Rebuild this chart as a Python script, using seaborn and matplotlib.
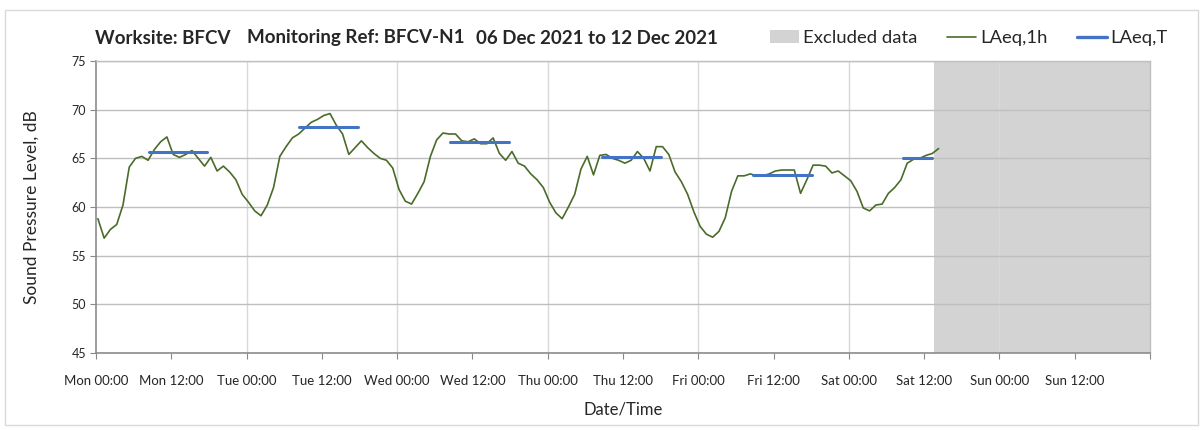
import pandas as pd
import numpy as np
import matplotlib
matplotlib.use("Agg")
import matplotlib.pyplot as plt
import seaborn as sns
from matplotlib.patches import Patch, Rectangle
from matplotlib.lines import Line2D

# hourly LAeq,1h values, Mon 00:00 onwards (hours since start)
laeq_1h = [58.8, 56.8, 57.7, 58.2, 60.2, 64.1, 65.0, 65.2, 64.8, 65.9,
           66.7, 67.2, 65.4, 65.1, 65.4, 65.8, 65.0, 64.2, 65.1, 63.7,
           64.2, 63.6, 62.8, 61.3, 60.5, 59.6, 59.1, 60.2, 62.0, 65.2,
           66.2, 67.1, 67.5, 68.1, 68.7, 69.0, 69.4, 69.6, 68.4, 67.5,
           65.4, 66.1, 66.8, 66.1, 65.5, 65.0, 64.8, 64.0, 61.8, 60.6,
           60.3, 61.4, 62.6, 65.2, 66.9, 67.6, 67.5, 67.5, 66.8, 66.7,
           67.0, 66.5, 66.5, 67.1, 65.5, 64.8, 65.7, 64.5, 64.2, 63.4,
           62.8, 62.0, 60.5, 59.4, 58.8, 60.0, 61.3, 63.9, 65.2, 63.3,
           65.3, 65.4, 65.0, 64.8, 64.5, 64.8, 65.7, 65.0, 63.7, 66.2,
           66.2, 65.4, 63.6, 62.6, 61.3, 59.5, 58.0, 57.2, 56.9, 57.5,
           58.9, 61.6, 63.2, 63.2, 63.4, 63.2, 63.2, 63.4, 63.7, 63.8,
           63.8, 63.8, 61.4, 62.8, 64.3, 64.3, 64.2, 63.5, 63.7, 63.2,
           62.7, 61.6, 59.9, 59.6, 60.2, 60.3, 61.4, 62.0, 62.8, 64.5,
           64.9, 65.0, 65.3, 65.5, 66.0]
hours = [i + 0.3 for i in range(len(laeq_1h))]

# LAeq,T daytime periods (hours since Mon 00:00)
period_start = [8.4, 32.4, 56.5, 80.6, 104.7, 128.7]
period_end = [17.7, 41.7, 65.8, 90.0, 114.1, 133.2]
laeq_t = [65.6, 68.2, 66.7, 65.1, 63.3, 65.0]

excluded_from = 133.5
excluded_to = 168

tick_labels = ["Mon 00:00", "Mon 12:00", "Tue 00:00", "Tue 12:00", "Wed 00:00",
               "Wed 12:00", "Thu 00:00", "Thu 12:00", "Fri 00:00", "Fri 12:00",
               "Sat 00:00", "Sat 12:00", "Sun 00:00", "Sun 12:00", ""]

sns.set_style("white")
plt.rcParams['font.family'] = ['Lato', 'DejaVu Sans']

green = '#4a6b2a'
blue = '#4472c4'
shade = '#d3d3d3'

df = pd.DataFrame({'hour': hours, 'LAeq': laeq_1h})
rows = []
for k in range(len(laeq_t)):
    rows.append({'period': k, 'hour': period_start[k], 'LAeq': laeq_t[k]})
    rows.append({'period': k, 'hour': period_end[k], 'LAeq': laeq_t[k]})
df_t = pd.DataFrame(rows)

fig = plt.figure(figsize=(12.03, 4.30), dpi=100)
ax = fig.add_axes([96/1203, 1-353/430, (1150-96)/1203, (353-61)/430])

ax.axvspan(excluded_from, excluded_to, color=shade, lw=0, zorder=0.2)
sns.lineplot(data=df, x='hour', y='LAeq', color=green, lw=1.2, ax=ax, zorder=3)
sns.lineplot(data=df_t, x='hour', y='LAeq', units='period', estimator=None,
             color=blue, lw=2.2, ax=ax, zorder=4)

ax.set_xlim(0, 168)
ax.set_ylim(45, 75)
ax.set_yticks(range(45, 76, 5))
ax.set_xticks(range(0, 169, 12))
ax.set_xticklabels(tick_labels, fontsize=9.5)
ax.tick_params(axis='y', labelsize=9, length=4, color='#888888', direction='out', left=True, pad=3)
ax.tick_params(axis='x', length=4, color='#888888', direction='out', bottom=True, pad=12)

ax.set_axisbelow(True)
ax.yaxis.grid(True, color='#bfbfbf', lw=1.0, zorder=0.5)
for d in range(24, 168, 24):
    ax.axvline(d, color='#d9d9d9', lw=1.0, zorder=0.5)

for s in ['left', 'bottom']:
    ax.spines[s].set_color('#8c8c8c')
    ax.spines[s].set_linewidth(1.2)
for s in ['top', 'right']:
    ax.spines[s].set_color('#bfbfbf')
    ax.spines[s].set_linewidth(1.0)

ax.set_xlabel("Date/Time", fontsize=12, labelpad=10)
ax.set_ylabel("Sound Pressure Level, dB", fontsize=12.5, labelpad=23)

ty = 1 - 38/430
fig.text(95/1203, ty, "Worksite: BFCV", fontsize=13.5, fontweight='bold', va='center')
fig.text(247/1203, ty, "Monitoring Ref: BFCV-N1", fontsize=13.5, fontweight='bold', va='center')
fig.text(476/1203, ty, "06 Dec 2021 to 12 Dec 2021", fontsize=13.5, fontweight='bold', va='center')

handles = [Patch(facecolor=shade, edgecolor='none'),
           Line2D([0], [0], color=green, lw=1.2),
           Line2D([0], [0], color=blue, lw=2.4)]
fig.legend(handles, ["Excluded data", "LAeq,1h", "LAeq,T"], loc='center left',
           bbox_to_anchor=(753/1203, ty), ncol=3, frameon=False, fontsize=13.3,
           handlelength=1.6, handletextpad=0.2, columnspacing=1.6, handleheight=0.7)

fig.patches.append(Rectangle((5/1203, 5/430), 1193/1203, 415/430, transform=fig.transFigure,
                             fill=False, edgecolor='#d9d9d9', lw=1.0))

fig.savefig("out.png", dpi=100)
